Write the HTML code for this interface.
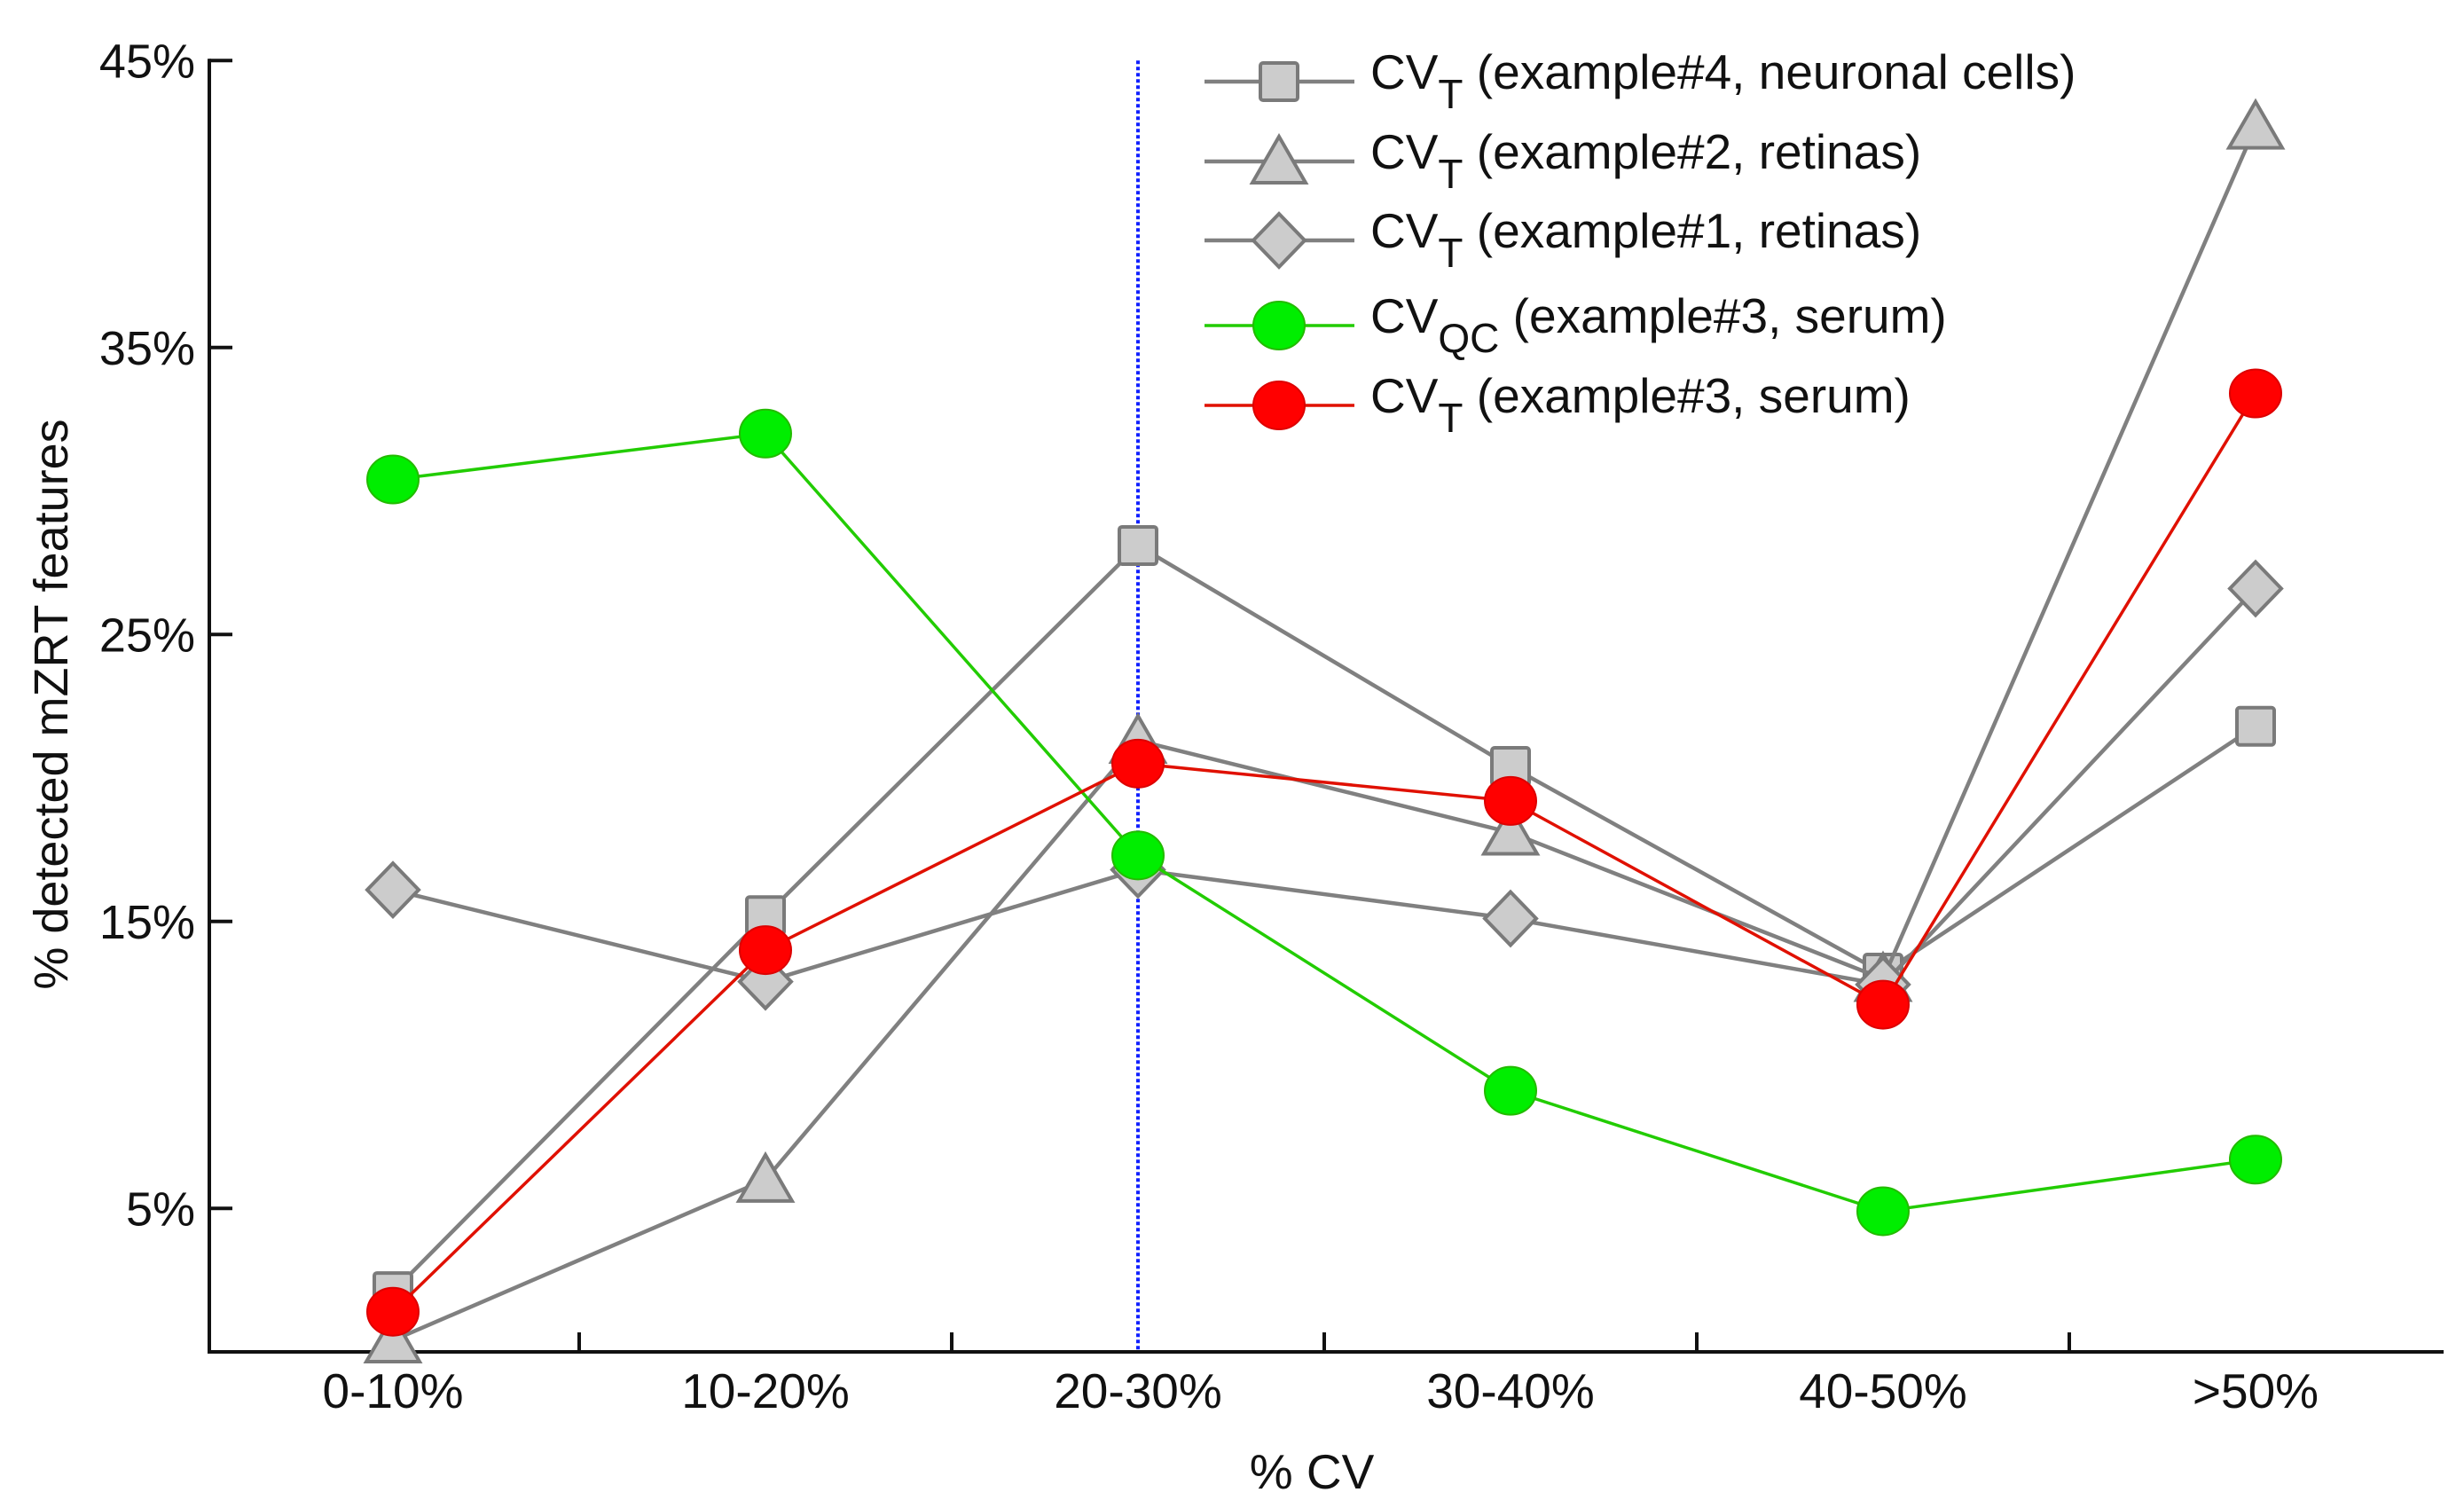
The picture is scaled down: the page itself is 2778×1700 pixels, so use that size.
<!DOCTYPE html>
<html><head><meta charset="utf-8"><style>
html,body{margin:0;padding:0;background:#fff;}
svg text{font-family:"Liberation Sans",Arial,sans-serif;fill:#111;}
</style></head><body>
<svg id="chart" width="2778" height="1695" viewBox="0 0 2778 1695" xmlns="http://www.w3.org/2000/svg">
<g id="axes"></g>
<g id="series"></g>
<g id="legend"></g>
</svg>
<script>
const categories = ["0-10%","10-20%","20-30%","30-40%","40-50%",">50%"];
const yTicks = [5,15,25,35,45];
const ex4Neuronal = [2.1,15.2,28.1,20.4,13.2,21.8];
const ex2Retinas = [0.4,6.0,21.3,18.1,13.0,42.7];
const ex1Retinas = [16.1,12.9,16.8,15.1,12.8,26.6];
const ex3QC = [30.4,32.0,17.3,9.1,4.9,6.7];
const ex3Serum = [1.4,14.0,20.5,19.2,12.1,33.4];
const cutoffCategory = 2;

const NS="http://www.w3.org/2000/svg";
const X0=443, DX=420, Y0=1524, PY=32.35;
const xs=i=>X0+i*DX;
const ys=v=>Y0-v*PY;
function mk(tag,attrs,parent){const e=document.createElementNS(NS,tag);for(const k in attrs)e.setAttribute(k,attrs[k]);parent.appendChild(e);return e;}
const axes=document.getElementById('axes'), series=document.getElementById('series'), legend=document.getElementById('legend');

let e=mk('line',{x1:236,y1:ys(45)-2,x2:236,y2:Y0+2,stroke:'#111','stroke-width':4},axes);


e=mk('line',{x1:234,y1:Y0,x2:2755,y2:Y0,stroke:'#111','stroke-width':4},axes);


yTicks.forEach(v=>{
  let t=mk('line',{x1:236,y1:ys(v),x2:262,y2:ys(v),stroke:'#111','stroke-width':4},axes);
  
  
  let l=mk('text',{x:220,y:ys(v)+19,'text-anchor':'end','font-size':54},axes);
  l.textContent=v+'%';
  
  
});
for(let i=0;i<categories.length-1;i++){
  let t=mk('line',{x1:xs(i)+DX/2,y1:Y0,x2:xs(i)+DX/2,y2:Y0-22,stroke:'#111','stroke-width':4},axes);
  
  
}
categories.forEach((c,i)=>{
  let l=mk('text',{x:xs(i),y:1587,'text-anchor':'middle','font-size':55},axes);
  l.textContent=c;
  
  
});
e=mk('text',{x:1479,y:1678,'text-anchor':'middle','font-size':55},axes);
e.textContent='% CV';


e=mk('text',{x:0,y:0,'text-anchor':'middle','font-size':54,transform:'translate(76,794) rotate(-90)'},axes);
e.textContent='% detected mZRT features';


e=mk('line',{x1:xs(cutoffCategory),y1:ys(45),x2:xs(cutoffCategory),y2:Y0,stroke:'#1020ff','stroke-width':4,'stroke-dasharray':'4,3'},axes);



function marker(type,cx,cy,fill,stroke,parent){
  let m;
  if(type==='square') m=mk('rect',{x:cx-21,y:cy-21,width:42,height:42,rx:3,fill,stroke,'stroke-width':4},parent);
  else if(type==='triangle') m=mk('polygon',{points:`${cx},${cy-28} ${cx+30},${cy+24} ${cx-30},${cy+24}`,fill,stroke,'stroke-width':4},parent);
  else if(type==='diamond') m=mk('polygon',{points:`${cx},${cy-30} ${cx+29},${cy} ${cx},${cy+30} ${cx-29},${cy}`,fill,stroke,'stroke-width':4},parent);
  else m=mk('ellipse',{cx,cy,rx:29,ry:27,fill,stroke,'stroke-width':2},parent);
  return m;
}
const defs=[
 {name:'ex4-neuronal',vals:ex4Neuronal,type:'square',line:'#808080',fill:'#cccccc',stroke:'#7a7a7a',w:4.5,label:['CV','T',' (example#4, neuronal cells)']},
 {name:'ex2-retinas',vals:ex2Retinas,type:'triangle',line:'#808080',fill:'#cccccc',stroke:'#7a7a7a',w:4.5,label:['CV','T',' (example#2, retinas)']},
 {name:'ex1-retinas',vals:ex1Retinas,type:'diamond',line:'#808080',fill:'#cccccc',stroke:'#7a7a7a',w:4.5,label:['CV','T',' (example#1, retinas)']},
 {name:'ex3-qc',vals:ex3QC,type:'circle',line:'#22cc00',fill:'#00ee00',stroke:'#22bb00',w:3.5,label:['CV','QC',' (example#3, serum)']},
 {name:'ex3-serum',vals:ex3Serum,type:'circle',line:'#e01000',fill:'#ff0000',stroke:'#dd0000',w:3.5,label:['CV','T',' (example#3, serum)']}
];
const legendY=[92,182,271,367,457];
defs.forEach((d,k)=>{
  const g=mk('g',{},series);
  
  
  let pl=mk('polyline',{points:d.vals.map((v,i)=>xs(i)+','+ys(v)).join(' '),fill:'none',stroke:d.line,'stroke-width':d.w},g);
  
  
  d.vals.forEach((v,i)=>{
    let m=marker(d.type,xs(i),ys(v),d.fill,d.stroke,g);
    
    
  });
  const lg=mk('g',{},legend);
  
  
  const ly=legendY[k];
  mk('line',{x1:1358,y1:ly,x2:1527,y2:ly,stroke:d.line,'stroke-width':d.w},lg);
  marker(d.type,1442,ly,d.fill,d.stroke,lg);
  const t=mk('text',{x:1545,y:ly+8,'font-size':55},lg);
  const s1=mk('tspan',{},t); s1.textContent=d.label[0];
  const s2=mk('tspan',{dy:22,'font-size':46},t); s2.textContent=d.label[1];
  const s3=mk('tspan',{dy:-22},t); s3.textContent=d.label[2];
});
</script>
</body></html>
